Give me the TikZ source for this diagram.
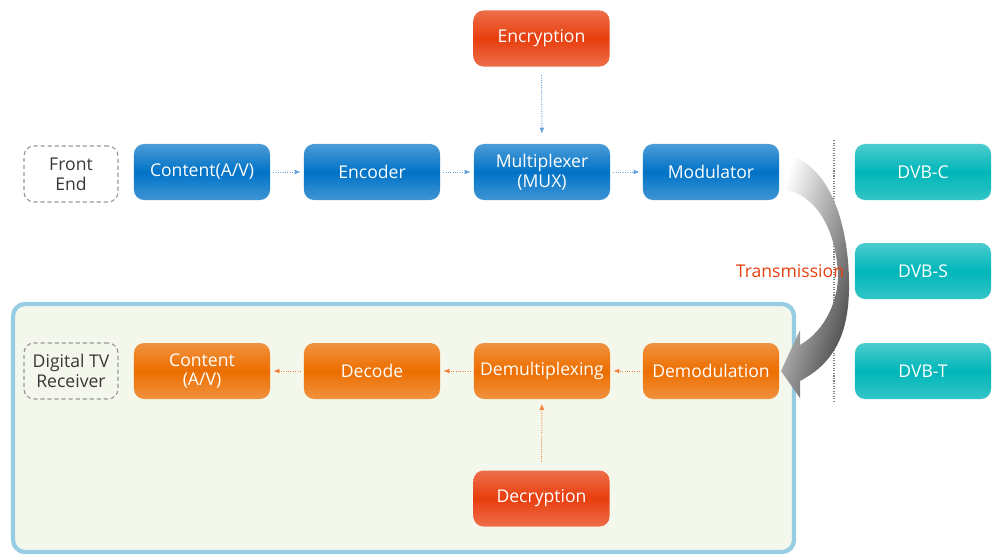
\documentclass[tikz,border=0pt]{standalone}
\usepackage{fontspec}
\setmainfont{Open Sans}
\usetikzlibrary{arrows.meta, positioning, shapes}
\definecolor{tvblue}{RGB}{0,114,198}
\definecolor{tvorange}{RGB}{236,110,0}
\definecolor{tvred}{RGB}{232,62,14}
\definecolor{tvteal}{RGB}{0,182,185}
\definecolor{tvframe}{RGB}{150,205,227}
\definecolor{tvpanel}{RGB}{244,248,236}
\definecolor{tvlink}{RGB}{100,160,220}
\definecolor{tvlinko}{RGB}{240,130,60}
\definecolor{tvtext}{RGB}{55,55,55}

\begin{document}
\begin{tikzpicture}[x=0.025cm, y=-0.025cm,
  box/.style={rounded corners=0.25cm, minimum width=3.4cm, minimum height=1.4cm,
    inner sep=0pt, align=center, text=white, font=\fontsize{12.5}{14}\selectfont},
  bluebox/.style={box, top color=tvblue!70!white, bottom color=tvblue!75!white, middle color=tvblue},
  orangebox/.style={box, top color=tvorange!75!white, bottom color=tvorange!75!white, middle color=tvorange},
  redbox/.style={box, top color=tvred!75!white, bottom color=tvred!75!white, middle color=tvred},
  tealbox/.style={box, top color=tvteal!70!white, bottom color=tvteal!80!white, middle color=tvteal},
  tagbox/.style={draw=gray!80, densely dashed, line width=0.8pt, rounded corners=0.25cm,
    minimum width=2.35cm, minimum height=1.4cm, inner sep=0pt, align=center,
    text=tvtext, font=\fontsize{12.5}{14}\selectfont},
  link/.style={densely dotted, line width=0.7pt, -{Latex[length=4.5pt,width=3.5pt]},
    shorten >=2pt, shorten <=2pt}
]
\useasboundingbox (0,0) rectangle (1008,555);

% receiver panel
\draw[tvframe, line width=3pt, fill=tvpanel, rounded corners=0.3cm] (13,304) rectangle (794,552);

% divider
\draw[gray, densely dotted, line width=0.8pt] (834,140) -- (834,402);

% front end row
\node[tagbox] (front) at (71,174) {Front\\End};
\node[bluebox] (content) at (202,172) {Content(A/V)};
\node[bluebox] (encoder) at (372,172) {Encoder};
\node[bluebox] (mux) at (542,172) {Multiplexer\\(MUX)};
\node[bluebox] (modulator) at (711,172) {Modulator};
\node[redbox] (encrypt) at (541.5,38.5) {Encryption};

% standards
\node[tealbox] (dvbc) at (923,172) {DVB-C};
\node[tealbox] (dvbs) at (923,271) {DVB-S};
\node[tealbox] (dvbt) at (923,371) {DVB-T};

% receiver row
\node[tagbox] (receiver) at (71,371) {Digital TV\\Receiver};
\node[orangebox] (content2) at (202,371) {Content\\(A/V)};
\node[orangebox] (decode) at (372,371) {Decode};
\node[orangebox] (demux) at (542,371) {Demultiplexing};
\node[orangebox] (demod) at (711,371) {Demodulation};
\node[redbox] (decrypt) at (541.5,498.5) {Decryption};

% links
\draw[link, tvlink] (content) -- (encoder);
\draw[link, tvlink] (encoder) -- (mux);
\draw[link, tvlink] (mux) -- (modulator);
\draw[link, tvlink, shorten <=6pt, shorten >=7pt] (encrypt) -- (mux);
\draw[link, tvlinko] (demod) -- (demux);
\draw[link, tvlinko] (demux) -- (decode);
\draw[link, tvlinko] (decode) -- (content2);
\draw[link, tvlinko, shorten <=6pt, shorten >=3pt] (decrypt) -- (demux);

% transmission arrow
\shade[top color=white, bottom color=black!75, shading angle=73]
  (780,153) .. controls (832,160) and (850,230) .. (849,290)
  .. controls (848,340) and (830,365) .. (800,381) -- (800,398) -- (781,371)
  -- (800,330) -- (800,345) .. controls (826,330) and (838,300) .. (838,275)
  .. controls (836,228) and (815,192) .. (780,189) -- cycle;
\node[text=tvred, font=\fontsize{12.5}{14}\selectfont, anchor=east] (tx) at (849,271) {Transmission};
\end{tikzpicture}
\end{document}
